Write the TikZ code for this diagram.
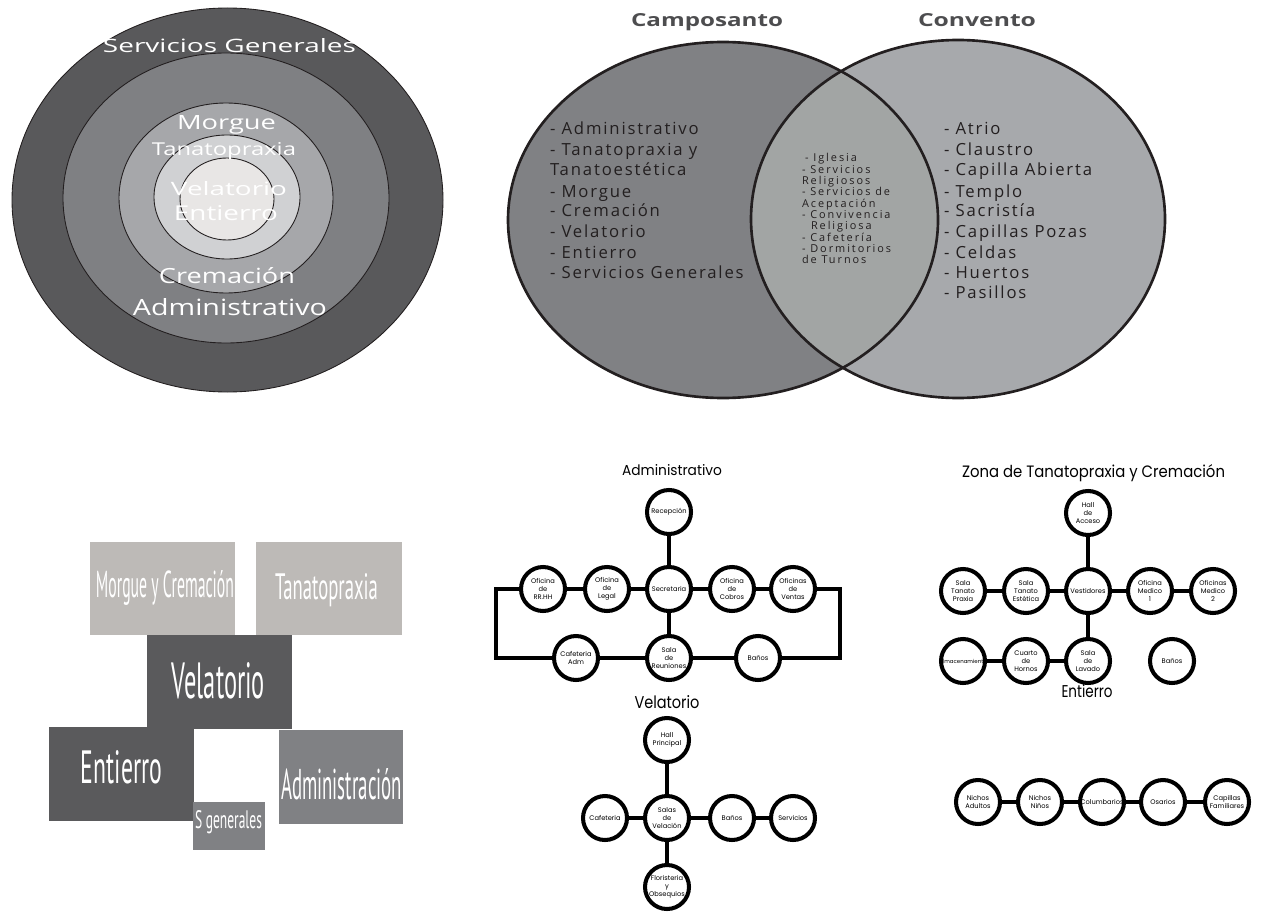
\documentclass[tikz,border=0pt]{standalone}
\usepackage{fontspec}
\usepackage{graphicx}
\setmainfont{Open Sans}
\newfontfamily\popp{Poppins}
\newfontfamily\ptsans{PT Sans}
\newfontfamily\lstfont[LetterSpace=11]{Open Sans}
\newfontfamily\lensfont[LetterSpace=18]{Open Sans}
\newlength\pxu \setlength\pxu{0.2mm}
\newcommand\fitt[3]{\resizebox{#1\pxu}{#2\pxu}{#3}}
\definecolor{ringA}{HTML}{59595B}
\definecolor{ringB}{HTML}{7F8083}
\definecolor{ringC}{HTML}{A6A7AA}
\definecolor{ringD}{HTML}{D0D1D3}
\definecolor{ringE}{HTML}{E8E6E5}
\definecolor{ringline}{HTML}{231F20}
\definecolor{venL}{HTML}{808184}
\definecolor{venR}{HTML}{A7A9AC}
\definecolor{venM}{HTML}{A2A5A4}
\definecolor{darktxt}{HTML}{231F20}
\definecolor{ttl}{HTML}{4D4D4F}
\definecolor{blkLight}{HTML}{BDBAB7}
\definecolor{blkDark}{HTML}{5A5A5C}
\definecolor{blkMid}{HTML}{808184}
\begin{document}
\begin{tikzpicture}[x=0.2mm,y=-0.2mm,
  txt/.style={inner sep=0pt, outer sep=0pt},
  wtxt/.style={txt, text=white, anchor=base},
  ring/.style={draw=ringline, line width=0.5pt},
  vline/.style={draw=ringline, line width=1.5pt},
  rm/.style={circle, draw=black, line width=2.3pt, minimum size=8.8mm, inner sep=0pt, fill=white, align=center, font=\popp\fontsize{3.8}{4.6}\selectfont},
  lnk/.style={line width=2.8pt, black},
  ltxt/.style={txt, anchor=base west, text=darktxt, font=\lstfont\fontsize{9.5}{11}\selectfont},
  mtxt/.style={txt, anchor=base west, text=darktxt, font=\lensfont\fontsize{6.2}{7}\selectfont},
  gtitle/.style={txt, anchor=base, text=black, font=\popp}]
\useasboundingbox (0,0) rectangle (1262,915);

% ---------- concentric rings ----------
\draw[ring, fill=ringA] (227.5,200) ellipse [x radius=215.5, y radius=192];
\draw[ring, fill=ringB] (226,198) ellipse [x radius=163, y radius=145];
\draw[ring, fill=ringC] (226,198) ellipse [x radius=107, y radius=95];
\draw[ring, fill=ringD] (227,197) ellipse [x radius=73, y radius=62];
\draw[ring, fill=ringE] (227,199) ellipse [x radius=47, y radius=41];
\node[wtxt] (cSG) at (229.5,53) {\fitt{253}{14}{Servicios Generales}};
\node[wtxt] (cMo) at (226.5,129) {\fitt{99}{14}{Morgue}};
\node[wtxt] (cTa) at (224,156) {\fitt{144}{13}{Tanatopraxia}};
\node[wtxt] (cVe) at (229,195) {\fitt{116}{14}{Velatorio}};
\node[wtxt] (cEn) at (226,220) {\fitt{104}{15}{Entierro}};
\node[wtxt] (cCr) at (227,283) {\fitt{136}{16}{Cremación}};
\node[wtxt] (cAd) at (230,315) {\fitt{194}{17}{Administrativo}};

% ---------- Venn ----------
\fill[venR] (958,219) ellipse [x radius=207, y radius=179];
\fill[venL] (723,220) ellipse [x radius=215, y radius=178];
\begin{scope}
  \clip (723,220) ellipse [x radius=215, y radius=178];
  \fill[venM] (958,219) ellipse [x radius=207, y radius=179];
\end{scope}
\draw[vline] (958,219) ellipse [x radius=207, y radius=179];
\draw[vline] (723,220) ellipse [x radius=215, y radius=178];
\node[txt, anchor=base, text=ttl, font=\bfseries] (tCam) at (707,27) {\fitt{152}{13}{Camposanto}};
\node[txt, anchor=base, text=ttl, font=\bfseries] (tCon) at (977,27) {\fitt{118}{13}{Convento}};

\node[ltxt] (l1) at (550,135) {- Administrativo};
\node[ltxt] (l2) at (550,156) {- Tanatopraxia y};
\node[ltxt] (l3) at (550,176) {Tanatoestética};
\node[ltxt] (l4) at (550,197) {- Morgue};
\node[ltxt] (l5) at (550,217) {- Cremación};
\node[ltxt] (l6) at (550,237) {- Velatorio};
\node[ltxt] (l7) at (550,258) {- Entierro};
\node[ltxt] (l8) at (550,278) {- Servicios Generales};

\node[ltxt] (r1) at (944,135) {- Atrio};
\node[ltxt] (r2) at (944,156) {- Claustro};
\node[ltxt] (r3) at (944,176) {- Capilla Abierta};
\node[ltxt] (r4) at (944,197) {- Templo};
\node[ltxt] (r5) at (944,217) {- Sacristía};
\node[ltxt] (r6) at (944,237) {- Capillas Pozas};
\node[ltxt] (r7) at (944,258) {- Celdas};
\node[ltxt] (r8) at (944,278) {- Huertos};
\node[ltxt] (r9) at (944,298) {- Pasillos};

\node[mtxt] (m1) at (805,162) {- Iglesia};
\node[mtxt] (m2) at (802,173.3) {- Servicios};
\node[mtxt] (m3) at (802,184.6) {Religiosos};
\node[mtxt] (m4) at (802,195.9) {- Servicios de};
\node[mtxt] (m5) at (802,207.2) {Aceptación};
\node[mtxt] (m6) at (802,218.5) {- Convivencia};
\node[mtxt] (m7) at (811,229.8) {Religiosa};
\node[mtxt] (m8) at (802,241.1) {- Cafetería};
\node[mtxt] (m9) at (802,252.4) {- Dormitorios};
\node[mtxt] (m10) at (802,263.7) {de Turnos};

% ---------- blocks ----------
\fill[blkLight] (90,542) rectangle (235,635);
\fill[blkLight] (256,542) rectangle (402,635);
\fill[blkDark] (147,635) rectangle (292,729);
\fill[blkDark] (49,727) rectangle (194,821);
\fill[blkMid] (279,730) rectangle (403,824);
\fill[blkMid] (193,802) rectangle (265,850);
\node[wtxt, font=\ptsans] (bMo) at (165,597) {\fitt{138}{27}{Morgue y Cremación}};
\node[wtxt, font=\ptsans] (bTa) at (326.5,599) {\fitt{103}{26}{Tanatopraxia}};
\node[wtxt, font=\ptsans] (bVe) at (218.5,698) {\fitt{93}{36}{Velatorio}};
\node[wtxt, font=\ptsans] (bEn) at (121.5,783) {\fitt{81}{33}{Entierro}};
\node[wtxt, font=\ptsans] (bAd) at (341.5,799) {\fitt{121}{31}{Administración}};
\node[wtxt, font=\ptsans] (bSg) at (228.5,828) {\fitt{67}{18}{S generales}};

% ---------- Administrativo ----------
\node[gtitle] (gA) at (672,475) {\fitt{100}{11}{Administrativo}};
\node[rm] (rec) at (669,512) {Recepción};
\node[rm] (sec) at (669,589) {Secretaria};
\node[rm] (rrhh) at (543,589) {Oficina\\de\\RR.HH};
\node[rm] (leg) at (607,589) {Oficina\\de\\Legal};
\node[rm] (cob) at (732,589) {Oficina\\de\\Cobros};
\node[rm] (ven) at (793,589) {Oficinas\\de\\Ventas};
\node[rm] (caf) at (576,658) {Cafeteria\\Adm};
\node[rm] (sala) at (669,658) {Sala\\de\\Reuniones};
\node[rm] (ban) at (758,658) {Baños};
\coordinate (lA) at (496,589);
\coordinate (lB) at (496,658);
\coordinate (rA) at (840,589);
\coordinate (rB) at (840,658);
\draw[lnk] (rec) -- (sec);
\draw[lnk] (sec) -- (sala);
\draw[lnk] (sec) -- (leg);
\draw[lnk] (leg) -- (rrhh);
\draw[lnk] (sec) -- (cob);
\draw[lnk] (cob) -- (ven);
\draw[lnk] (caf) -- (sala);
\draw[lnk] (sala) -- (ban);
\draw[lnk] (rrhh.west) -- (lA) -- (lB) -- (caf.west);
\draw[lnk] (ven.east) -- (rA) -- (rB) -- (ban.east);

% ---------- Zona de Tanatopraxia ----------
\node[gtitle] (gT) at (1093.5,477) {\fitt{263}{13}{Zona de Tanatopraxia y Cremación}};
\node[rm] (hall) at (1088,513) {Hall\\de\\Acceso};
\node[rm] (vest) at (1088,591) {Vestidores};
\node[rm] (est) at (1026,591) {Sala\\Tanato\\Estética};
\node[rm] (prax) at (963,591) {Sala\\Tanato\\Praxia};
\node[rm] (om1) at (1150,591) {Oficina\\Medico\\1};
\node[rm] (om2) at (1213,591) {Oficinas\\Medico\\2};
\node[rm] (lav) at (1088,661) {Sala\\de\\Lavado};
\node[rm] (cua) at (1026,661) {Cuarto\\de\\Hornos};
\node[rm] (alm) at (963,661) {\makebox[0pt]{\fontsize{3.1}{4}\selectfont Almacenamiento}};
\node[rm] (bt) at (1172,661) {Baños};
\draw[lnk] (hall) -- (vest);
\draw[lnk] (vest) -- (est);
\draw[lnk] (est) -- (prax);
\draw[lnk] (vest) -- (om1);
\draw[lnk] (om1) -- (om2);
\draw[lnk] (vest) -- (lav);
\draw[lnk] (lav) -- (cua);
\draw[lnk] (cua) -- (alm);

% ---------- Velatorio ----------
\node[gtitle] (gV) at (667,708) {\fitt{65}{13}{Velatorio}};
\node[rm] (hp) at (667,740) {Hall\\Principal};
\node[rm] (sv) at (667,818) {Salas\\de\\Velación};
\node[rm] (vc) at (605,818) {Cafeteria};
\node[rm] (vb) at (732,818) {Baños};
\node[rm] (vs) at (793,818) {Servicios};
\node[rm] (fl) at (667,887) {Floristeria\\y\\Obsequios};
\draw[lnk] (hp) -- (sv);
\draw[lnk] (sv) -- (fl);
\draw[lnk] (vc) -- (sv);
\draw[lnk] (sv) -- (vb);
\draw[lnk] (vb) -- (vs);

% ---------- Entierro ----------
\node[gtitle] (gE) at (1087,697) {\fitt{51}{13}{Entierro}};
\node[rm] (na) at (978,802) {Nichos\\Adultos};
\node[rm] (nn) at (1040,802) {Nichos\\Niños};
\node[rm] (col) at (1102,802) {Columbarios};
\node[rm] (os) at (1163,802) {Osarios};
\node[rm] (cf) at (1227,802) {Capillas\\Familiares};
\draw[lnk] (na) -- (nn);
\draw[lnk] (nn) -- (col);
\draw[lnk] (col) -- (os);
\draw[lnk] (os) -- (cf);
\end{tikzpicture}
\end{document}
